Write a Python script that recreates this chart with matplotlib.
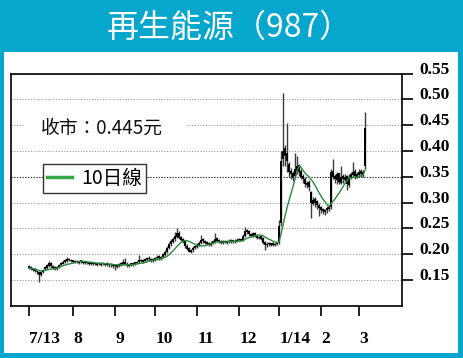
import numpy as np
import pandas as pd
import matplotlib.pyplot as plt
from matplotlib.patches import Rectangle

title = "再生能源（987）"
close_note = "收市：0.445元"
ma_label = "10日線"

month_labels = ["7/13", "8", "9", "10", "11", "12", "1/14", "2", "3"]
# trading-day index of the first session of each month
month_starts = [0, 22, 43, 63, 84, 105, 125, 146, 165]

price_ticks = [0.15, 0.20, 0.25, 0.30, 0.35, 0.40, 0.45, 0.50, 0.55]

opens = [
    0.176, 0.173, 0.172, 0.171, 0.168, 0.166, 0.160, 0.166, 0.171, 0.174,
    0.177, 0.183, 0.177, 0.175, 0.171, 0.175, 0.178, 0.181, 0.184, 0.186,
    0.191, 0.189, 0.187, 0.184, 0.187, 0.183, 0.186, 0.186, 0.182, 0.185,
    0.181, 0.184, 0.180, 0.183, 0.179, 0.182, 0.179, 0.183, 0.179, 0.182,
    0.178, 0.181, 0.179, 0.178, 0.175, 0.177, 0.179, 0.181, 0.185, 0.181,
    0.177, 0.180, 0.179, 0.181, 0.182, 0.184, 0.189, 0.185, 0.187, 0.189,
    0.193, 0.191, 0.187, 0.189, 0.192, 0.196, 0.191, 0.194, 0.199, 0.204,
    0.211, 0.219, 0.224, 0.229, 0.234, 0.241, 0.233, 0.229, 0.226, 0.216,
    0.211, 0.204, 0.207, 0.211, 0.214, 0.217, 0.221, 0.229, 0.226, 0.223,
    0.221, 0.217, 0.221, 0.224, 0.231, 0.227, 0.225, 0.221, 0.226, 0.222,
    0.223, 0.227, 0.226, 0.223, 0.225, 0.229, 0.226, 0.227, 0.236, 0.246,
    0.244, 0.239, 0.235, 0.241, 0.237, 0.231, 0.235, 0.231, 0.223, 0.217,
    0.221, 0.218, 0.221, 0.217, 0.219, 0.223, 0.260, 0.385, 0.405, 0.395,
    0.375, 0.362, 0.358, 0.352, 0.362, 0.372, 0.362, 0.352, 0.346, 0.333,
    0.340, 0.320, 0.298, 0.307, 0.302, 0.296, 0.291, 0.287, 0.281, 0.286,
    0.292, 0.292, 0.362, 0.352, 0.343, 0.357, 0.338, 0.352, 0.343, 0.352,
    0.333, 0.348, 0.353, 0.362, 0.350, 0.353, 0.362, 0.353, 0.370,
]
highs = [
    0.178, 0.176, 0.174, 0.173, 0.170, 0.168, 0.167, 0.172, 0.177, 0.180,
    0.186, 0.184, 0.179, 0.177, 0.177, 0.180, 0.184, 0.188, 0.190, 0.195,
    0.193, 0.190, 0.189, 0.188, 0.189, 0.187, 0.188, 0.187, 0.186, 0.187,
    0.185, 0.186, 0.184, 0.185, 0.183, 0.184, 0.184, 0.185, 0.183, 0.184,
    0.182, 0.183, 0.181, 0.180, 0.180, 0.182, 0.184, 0.190, 0.193, 0.184,
    0.181, 0.183, 0.184, 0.185, 0.187, 0.198, 0.191, 0.190, 0.192, 0.195,
    0.196, 0.193, 0.192, 0.195, 0.198, 0.198, 0.197, 0.203, 0.208, 0.215,
    0.224, 0.229, 0.234, 0.243, 0.250, 0.245, 0.236, 0.231, 0.228, 0.219,
    0.213, 0.210, 0.215, 0.218, 0.221, 0.225, 0.237, 0.231, 0.228, 0.225,
    0.223, 0.225, 0.228, 0.241, 0.233, 0.229, 0.227, 0.228, 0.228, 0.227,
    0.229, 0.229, 0.228, 0.229, 0.231, 0.231, 0.231, 0.238, 0.253, 0.249,
    0.246, 0.241, 0.243, 0.243, 0.239, 0.236, 0.237, 0.233, 0.225, 0.223,
    0.223, 0.222, 0.223, 0.222, 0.224, 0.266, 0.400, 0.512, 0.412, 0.454,
    0.378, 0.366, 0.362, 0.396, 0.390, 0.375, 0.365, 0.355, 0.350, 0.342,
    0.343, 0.322, 0.310, 0.310, 0.305, 0.300, 0.294, 0.290, 0.288, 0.293,
    0.295, 0.365, 0.384, 0.356, 0.360, 0.358, 0.370, 0.355, 0.355, 0.353,
    0.355, 0.360, 0.378, 0.365, 0.360, 0.365, 0.365, 0.363, 0.476,
]
lows = [
    0.171, 0.170, 0.168, 0.165, 0.162, 0.146, 0.158, 0.164, 0.169, 0.172,
    0.175, 0.174, 0.172, 0.170, 0.170, 0.173, 0.176, 0.180, 0.182, 0.184,
    0.186, 0.184, 0.183, 0.182, 0.182, 0.181, 0.183, 0.181, 0.180, 0.180,
    0.179, 0.179, 0.178, 0.178, 0.177, 0.178, 0.177, 0.178, 0.177, 0.176,
    0.175, 0.175, 0.174, 0.169, 0.173, 0.175, 0.177, 0.179, 0.178, 0.175,
    0.175, 0.177, 0.177, 0.179, 0.180, 0.182, 0.184, 0.183, 0.185, 0.187,
    0.186, 0.185, 0.185, 0.187, 0.189, 0.189, 0.189, 0.192, 0.197, 0.202,
    0.209, 0.216, 0.221, 0.226, 0.231, 0.229, 0.225, 0.222, 0.212, 0.207,
    0.204, 0.202, 0.205, 0.209, 0.212, 0.215, 0.219, 0.222, 0.219, 0.217,
    0.215, 0.215, 0.219, 0.222, 0.224, 0.221, 0.219, 0.219, 0.221, 0.220,
    0.221, 0.222, 0.221, 0.221, 0.223, 0.225, 0.225, 0.225, 0.234, 0.239,
    0.235, 0.233, 0.233, 0.234, 0.229, 0.229, 0.228, 0.220, 0.208, 0.214,
    0.216, 0.216, 0.215, 0.215, 0.217, 0.220, 0.255, 0.370, 0.370, 0.360,
    0.350, 0.345, 0.342, 0.348, 0.355, 0.352, 0.345, 0.338, 0.330, 0.328,
    0.322, 0.270, 0.295, 0.292, 0.288, 0.273, 0.280, 0.278, 0.275, 0.280,
    0.283, 0.288, 0.345, 0.338, 0.336, 0.335, 0.335, 0.338, 0.340, 0.325,
    0.330, 0.345, 0.350, 0.345, 0.348, 0.350, 0.350, 0.350, 0.365,
]
closes = [
    0.173, 0.172, 0.170, 0.168, 0.165, 0.160, 0.165, 0.170, 0.175, 0.178,
    0.182, 0.176, 0.174, 0.172, 0.175, 0.178, 0.182, 0.185, 0.188, 0.190,
    0.188, 0.186, 0.185, 0.186, 0.184, 0.185, 0.185, 0.183, 0.184, 0.182,
    0.183, 0.181, 0.182, 0.180, 0.181, 0.180, 0.182, 0.180, 0.181, 0.179,
    0.180, 0.178, 0.177, 0.176, 0.178, 0.180, 0.182, 0.184, 0.180, 0.178,
    0.179, 0.180, 0.182, 0.183, 0.185, 0.188, 0.186, 0.188, 0.190, 0.192,
    0.190, 0.188, 0.190, 0.193, 0.195, 0.192, 0.195, 0.200, 0.205, 0.212,
    0.220, 0.225, 0.230, 0.235, 0.240, 0.232, 0.228, 0.225, 0.215, 0.210,
    0.205, 0.208, 0.212, 0.215, 0.218, 0.222, 0.228, 0.225, 0.222, 0.220,
    0.218, 0.222, 0.225, 0.230, 0.226, 0.224, 0.222, 0.225, 0.223, 0.224,
    0.226, 0.225, 0.224, 0.226, 0.228, 0.227, 0.228, 0.235, 0.245, 0.243,
    0.238, 0.236, 0.240, 0.236, 0.232, 0.234, 0.230, 0.222, 0.218, 0.220,
    0.219, 0.220, 0.218, 0.220, 0.222, 0.255, 0.380, 0.400, 0.390, 0.380,
    0.360, 0.355, 0.350, 0.365, 0.370, 0.360, 0.350, 0.345, 0.335, 0.338,
    0.330, 0.300, 0.305, 0.300, 0.295, 0.290, 0.285, 0.283, 0.285, 0.290,
    0.288, 0.360, 0.350, 0.345, 0.355, 0.340, 0.350, 0.345, 0.350, 0.335,
    0.350, 0.355, 0.360, 0.352, 0.355, 0.360, 0.355, 0.360, 0.445,
]

BLUE = "#07a6cc"
GREEN = "#2b8a3e"
W, H = 463, 358
CJK = ["Noto Sans CJK TC", "DejaVu Sans"]
SERIF = "Liberation Serif"


def fx(px):
    return px / W


def fy(py):
    return 1 - py / H


fig = plt.figure(figsize=(W / 100, H / 100), dpi=100, facecolor=BLUE)
fig.patches.append(Rectangle((fx(4), fy(353)), (458 - 4) / W, (353 - 52) / H,
                             transform=fig.transFigure, facecolor="white",
                             edgecolor="none", zorder=-1))
fig.text(fx(229), fy(28), title, color="white", fontsize=23, family=CJK,
         ha="center", va="center")

ax = fig.add_axes([fx(11), fy(305.7), (402 - 11) / W, (305.7 - 73.5) / H])
ax.set_facecolor("white")
ax.set_axisbelow(True)

days = np.arange(len(closes))
o = np.array(opens)
c = np.array(closes)

# candles: grey wicks, black bodies
ax.vlines(days, lows, highs, color="#3c3c3c", lw=1.0, zorder=3)
ax.bar(days, np.maximum(np.abs(c - o), 0.003), bottom=np.minimum(o, c),
       width=1.0, color="black", zorder=4)

ma = pd.Series(closes).rolling(10, min_periods=1).mean()
ax.plot(days, ma, color=GREEN, lw=1.0, zorder=5, label=ma_label)

ax.set_xlim(-9.16, 186.5)
ax.set_ylim(0.10, 0.55)

ax.set_yticks(price_ticks)
ax.set_yticklabels([f"{t:.2f}" for t in price_ticks])
ax.yaxis.tick_right()
ax.grid(axis="y", color="#9a9a9a", linestyle=(0, (1, 1.5)), lw=0.8)
ax.axhline(0.35, color="#222222", linestyle=(0, (1, 1.5)), lw=0.8, zorder=1)

ax.set_xticks(month_starts)
ax.set_xticklabels(month_labels)

for s in ax.spines.values():
    s.set_linewidth(1.2)
ax.tick_params(axis="y", direction="out", length=8, width=1.2, pad=4.5,
               labelsize=12.5)
ax.tick_params(axis="x", direction="out", length=7, width=1.2, pad=11,
               labelsize=12.5)
for lab in ax.get_yticklabels():
    lab.set_family(SERIF)
    lab.set_weight("bold")
    lab.set_va("baseline")
for lab in ax.get_xticklabels():
    lab.set_family(SERIF)
    lab.set_weight("bold")
    lab.set_ha("left")

# closing price note, on a white patch that hides the grid behind it
ax.add_patch(Rectangle((fx(25), fy(140)), (187 - 25) / W, 24 / H,
                       transform=fig.transFigure, facecolor="white",
                       edgecolor="none", zorder=6))
fig.text(fx(41), fy(128), close_note, fontsize=13.5, family=CJK,
         ha="left", va="center", color="#111111")

leg = ax.legend(loc="upper left", bbox_to_anchor=(fx(43), fy(164)),
                bbox_transform=fig.transFigure, fancybox=False,
                edgecolor="#333333", framealpha=1, borderpad=0.2,
                handlelength=1.3, handletextpad=0.45, borderaxespad=0,
                prop={"family": CJK, "size": 14})
leg.get_frame().set_linewidth(1.0)
leg.get_lines()[0].set_linewidth(2.5)
leg.get_lines()[0].set_color("#35a84c")

fig.savefig("out.png", dpi=100, facecolor=BLUE)
